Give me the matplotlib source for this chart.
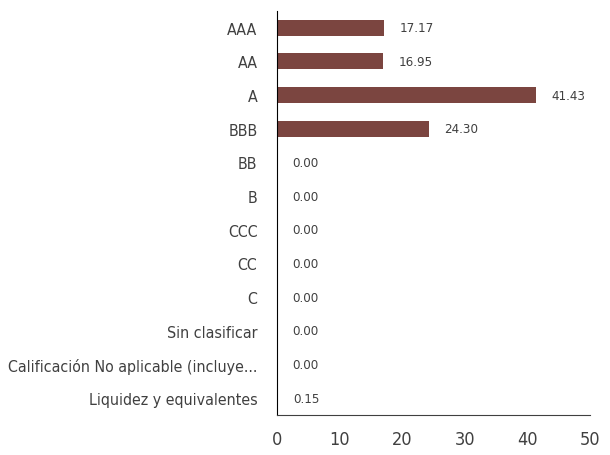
import numpy as np
import matplotlib.pyplot as plt

categorias = ["AAA", "AA", "A", "BBB", "BB", "B", "CCC", "CC", "C",
              "Sin clasificar", "Calificación No aplicable (incluye...",
              "Liquidez y equivalentes"]
valores = [17.17, 16.95, 41.43, 24.30, 0.00, 0.00, 0.00, 0.00, 0.00,
           0.00, 0.00, 0.15]
ticks_x = [0, 10, 20, 30, 40, 50]

plt.rcParams["font.family"] = ["DejaVu Sans"]
plt.rcParams["font.stretch"] = "condensed"

fig = plt.figure(figsize=(6.1, 4.56), dpi=100)
ax = fig.add_axes([0.454, 0.088, 0.513, 0.886])

y = np.arange(len(categorias))
ax.barh(y, valores, height=0.48, color="#7b4540")
for yi, v in zip(y, valores):
    ax.annotate(f"{v:.2f}", (v, yi), xytext=(11, 0), textcoords="offset points",
                va="center", ha="left", fontsize=9.5, color="#404040")

ax.set_yticks(y)
ax.set_yticklabels(categorias, fontsize=11.4, color="#404040")
ax.set_xticks(ticks_x)
ax.set_xticklabels([str(t) for t in ticks_x], fontsize=13, color="#404040")
ax.set_xlim(0, 50)
ax.set_ylim(len(categorias) - 0.5, -0.5)
ax.tick_params(axis="y", length=0, pad=14)
ax.tick_params(axis="x", length=0, pad=11)
ax.spines["top"].set_visible(False)
ax.spines["right"].set_visible(False)
ax.spines["left"].set_color("#000000")
ax.spines["bottom"].set_color("#404040")

fig.savefig("out.png", dpi=100)
